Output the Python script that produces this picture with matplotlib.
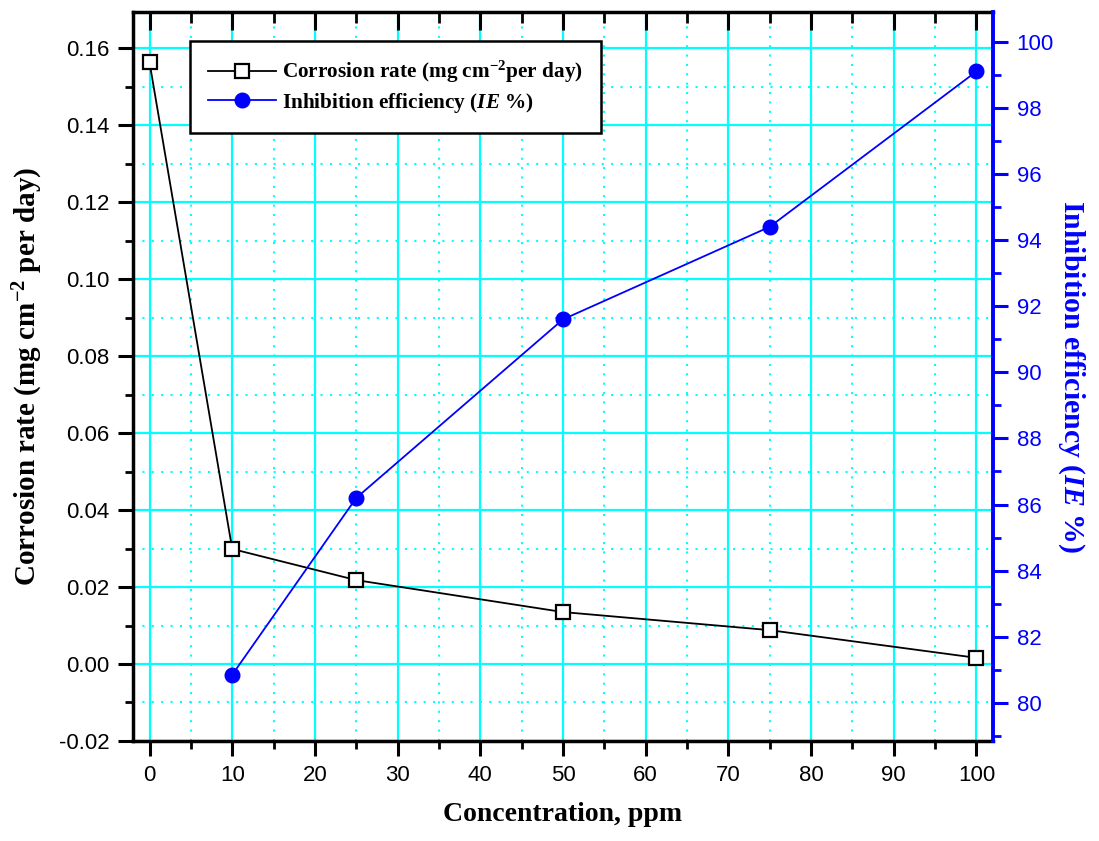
import matplotlib
matplotlib.use("Agg")
import matplotlib.pyplot as plt
from matplotlib.ticker import MultipleLocator

# Concentration (ppm) and measured values
conc = [0, 10, 25, 50, 75, 100]
corrosion_rate = [0.1564, 0.0299, 0.0218, 0.0135, 0.0088, 0.0016]
ie_conc = [10, 25, 50, 75, 100]
inhibition_eff = [80.85, 86.2, 91.6, 94.4, 99.1]

plt.rcParams['font.family'] = ['Liberation Sans', 'DejaVu Sans']
plt.rcParams['mathtext.fontset'] = 'custom'
plt.rcParams['mathtext.rm'] = 'Liberation Serif:bold'
plt.rcParams['mathtext.it'] = 'Liberation Serif:italic:bold'

serif_bold = dict(family='Liberation Serif', weight='bold')
blue = '#0000ff'
cyan = '#00ffff'

fig = plt.figure(figsize=(10.99, 8.41), dpi=100)
ax = fig.add_axes([0.121, 0.119, 0.7825, 0.8668])
ax2 = ax.twinx()

# Left axis: corrosion rate
line_cr, = ax.plot(conc, corrosion_rate, color='black', lw=1.3, marker='s',
                   markersize=9.5, markerfacecolor='white', markeredgecolor='black',
                   markeredgewidth=1.6, zorder=5,
                   label='Corrosion rate (mg cm$^{-2}$per day)')
ax.set_xlim(-2, 102)
ax.set_ylim(-0.02, 0.1695)
ax.xaxis.set_major_locator(MultipleLocator(10))
ax.xaxis.set_minor_locator(MultipleLocator(5))
ax.yaxis.set_major_locator(MultipleLocator(0.02))
ax.yaxis.set_minor_locator(MultipleLocator(0.01))
ax.yaxis.set_major_formatter(matplotlib.ticker.FormatStrFormatter('%.2f'))

# grid: solid major, dotted minor
ax.grid(which='major', color=cyan, lw=1.6, ls='-', zorder=0)
ax.grid(which='minor', color=cyan, lw=1.5, ls=(0, (1, 3.5)), zorder=0)
ax.set_axisbelow(True)

ax.tick_params(axis='both', which='major', direction='out', length=11, width=2.2,
               labelsize=16, pad=6)
ax.tick_params(axis='both', which='minor', direction='out', length=6, width=2.0)
ax.tick_params(axis='x', which='both', top=True)
for sp in ['left', 'bottom', 'top']:
    ax.spines[sp].set_linewidth(2.5)

ax.set_xlabel('Concentration, ppm', fontsize=20, labelpad=12, **serif_bold)
ax.set_ylabel('Corrosion rate (mg cm$^{-2}$ per day)', fontsize=21, labelpad=10, **serif_bold)

# Right axis: inhibition efficiency
line_ie, = ax2.plot(ie_conc, inhibition_eff, color=blue, lw=1.3, marker='o',
                    markersize=10.5, markerfacecolor=blue, markeredgecolor=blue,
                    zorder=5, label='Inhibition efficiency ($IE$ %)')
ax2.set_ylim(78.85, 100.9)
ax2.yaxis.set_major_locator(MultipleLocator(2))
ax2.yaxis.set_minor_locator(MultipleLocator(1))
ax2.tick_params(axis='y', which='major', direction='out', length=11, width=2.2,
                labelsize=16, colors=blue, pad=6)
ax2.tick_params(axis='y', which='minor', direction='out', length=6, width=2.0, colors=blue)
ax2.spines['right'].set_color(blue)
ax2.spines['right'].set_linewidth(2.8)
for sp in ['left', 'bottom', 'top']:
    ax2.spines[sp].set_visible(False)
ax2.set_ylabel('Inhibition efficiency ($IE$ %)', fontsize=21.5, color=blue,
               rotation=-90, labelpad=24, **serif_bold)

# top ticks point into the plot
ax.tick_params(axis='x', which='major', top=True, labeltop=False)
for t in ax.xaxis.get_major_ticks():
    t.tick2line.set_marker(matplotlib.lines.TICKDOWN)
    t.tick2line.set_markersize(13)
for t in ax.xaxis.get_minor_ticks():
    t.tick2line.set_marker(matplotlib.lines.TICKDOWN)
    t.tick2line.set_markersize(8)

leg = ax2.legend(handles=[line_cr, line_ie], loc='upper left',
                 bbox_to_anchor=(0.0663, 0.960), borderaxespad=0,
                 fancybox=False, framealpha=1, edgecolor='black',
                 prop=dict(family='Liberation Serif', weight='bold', size=15.3),
                 handlelength=3.2, handletextpad=0.3, borderpad=0.85,
                 labelspacing=0.25)
leg.get_frame().set_linewidth(1.8)
leg.set_zorder(10)

fig.savefig('out.png', dpi=100)
